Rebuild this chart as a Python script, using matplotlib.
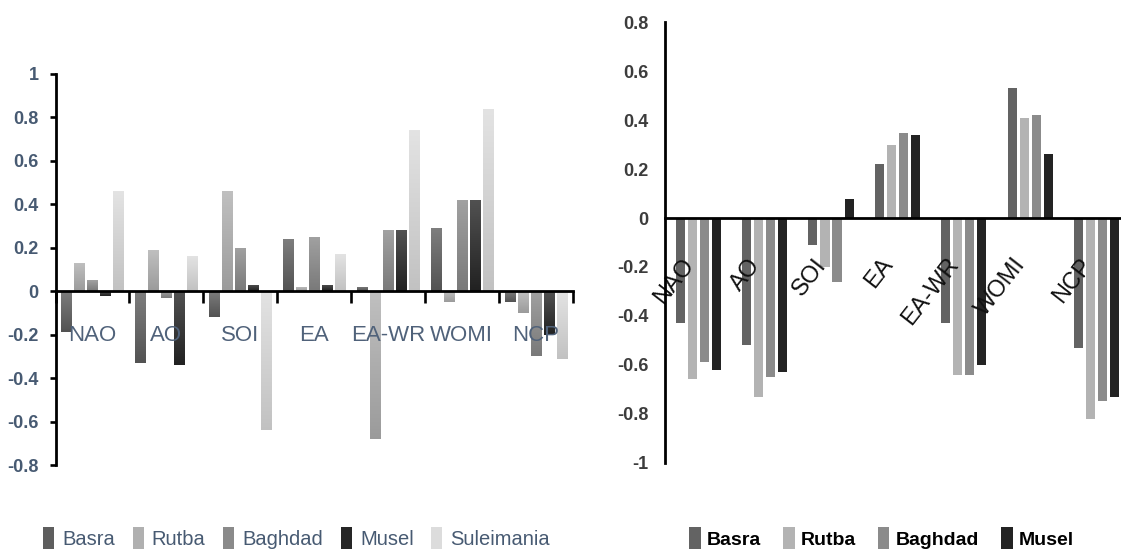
import numpy as np
import matplotlib
matplotlib.use("Agg")
import matplotlib.pyplot as plt
from matplotlib.patches import Patch
from matplotlib.colors import to_rgb

# ---- data ----
indices = ["NAO", "AO", "SOI", "EA", "EA-WR", "WOMI", "NCP"]

stations_l = ["Basra", "Rutba", "Baghdad", "Musel", "Suleimania"]
basra_l      = [-0.19, -0.33, -0.12, 0.24,  0.02,  0.29, -0.05]
rutba_l      = [ 0.13,  0.19,  0.46, 0.02, -0.68, -0.05, -0.10]
baghdad_l    = [ 0.05, -0.03,  0.20, 0.25,  0.28,  0.42, -0.30]
musel_l      = [-0.02, -0.34,  0.03, 0.03,  0.28,  0.42, -0.20]
suleimania_l = [ 0.46,  0.16, -0.64, 0.17,  0.74,  0.84, -0.31]

stations_r = ["Basra", "Rutba", "Baghdad", "Musel"]
basra_r   = [-0.43, -0.52, -0.11, 0.22, -0.43, 0.53, -0.53]
rutba_r   = [-0.66, -0.73, -0.20, 0.30, -0.64, 0.41, -0.82]
baghdad_r = [-0.59, -0.65, -0.26, 0.35, -0.64, 0.42, -0.75]
musel_r   = [-0.62, -0.63,  0.08, 0.34, -0.60, 0.26, -0.73]

yticks_l = [1, 0.8, 0.6, 0.4, 0.2, 0, -0.2, -0.4, -0.6, -0.8]
yticks_r = [0.8, 0.6, 0.4, 0.2, 0, -0.2, -0.4, -0.6, -0.8, -1]

cols_l = ["#5e5e5e", "#b0b0b0", "#8a8a8a", "#262626", "#dcdcdc"]
cols_r = ["#636363", "#b3b3b3", "#8b8b8b", "#232323"]

slate = "#475a72"
plt.rcParams["font.family"] = ["Liberation Sans", "DejaVu Sans"]


def fmt(v):
    return "0" if v == 0 else ("%g" % v)


def grad_bars(ax, x, vals, width, color):
    # plain bars, then a vertical light-to-dark gradient clipped to each bar
    bars = ax.bar(x, vals, width, color=color, zorder=1)
    c = np.array(to_rgb(color))
    top = c + (1 - c) * 0.2
    bot = c * 0.88
    t = np.linspace(0, 1, 64)[:, None]
    img = (top[None, :] * (1 - t) + bot[None, :] * t)[:, None, :]
    for r in bars:
        y0, y1 = sorted([r.get_y(), r.get_y() + r.get_height()])
        im = ax.imshow(img, extent=[r.get_x(), r.get_x() + r.get_width(), y0, y1],
                       aspect="auto", origin="upper", zorder=1.2, interpolation="bilinear")
        im.set_clip_path(r)
    return bars


fig = plt.figure(figsize=(11.21, 5.51), dpi=100)

# ---------------- left chart ----------------
ax1 = fig.add_axes([55.5 / 1121, (551 - 465) / 551, 517.2 / 1121, 391 / 551])
series_l = [basra_l, rutba_l, baghdad_l, musel_l, suleimania_l]
centers = np.arange(len(indices)) + 0.5
pitch, bw = 0.176, 0.142
for k, (vals, col) in enumerate(zip(series_l, cols_l)):
    grad_bars(ax1, centers + (k - 2) * pitch, vals, bw, col)

ax1.set_xlim(0, len(indices))
ax1.set_ylim(-0.8, 1)
for s in ["top", "right"]:
    ax1.spines[s].set_visible(False)
ax1.spines["bottom"].set_position(("data", 0))
ax1.spines["bottom"].set_linewidth(2.0)
ax1.spines["left"].set_linewidth(2.0)
ax1.spines["bottom"].set_zorder(2.5)

ax1.set_xticks(np.arange(len(indices) + 1))
ax1.set_xticklabels([])
ax1.set_xticks(centers, minor=True)
ax1.set_xticklabels(indices, minor=True, fontsize=16, color="#50627a")
ax1.tick_params(axis="x", which="major", direction="out", length=8.6, width=1.9)
ax1.tick_params(axis="x", which="minor", length=0, pad=24)
ax1.set_yticks(yticks_l)
ax1.set_yticklabels([fmt(v) for v in yticks_l], fontsize=13, fontweight="bold", color=slate)
ax1.tick_params(axis="y", direction="out", length=4, width=1.9, pad=8)
ax1.patch.set_alpha(0)

# ---------------- right chart ----------------
ax2 = fig.add_axes([665 / 1121, (551 - 462.5) / 551, 464.8 / 1121, 440 / 551])
series_r = [basra_r, rutba_r, baghdad_r, musel_r]
pitch2, bw2 = 0.181, 0.136
for k, (vals, col) in enumerate(zip(series_r, cols_r)):
    ax2.bar(centers + (k - 1.5) * pitch2, vals, bw2, color=col, zorder=1)

ax2.set_xlim(0, len(indices))
ax2.set_ylim(-1, 0.8)
for s in ["top", "right"]:
    ax2.spines[s].set_visible(False)
ax2.spines["bottom"].set_position(("data", 0))
ax2.spines["bottom"].set_linewidth(2.0)
ax2.spines["left"].set_linewidth(2.0)
ax2.spines["bottom"].set_zorder(2.5)

ax2.set_xticks([])
ax2.set_xticks(centers, minor=True)
ax2.set_xticklabels(indices, minor=True, fontsize=17, color="#111111",
                    rotation=52, ha="right")
ax2.tick_params(axis="x", which="minor", length=0, pad=26)
ax2.set_yticks(yticks_r)
ax2.set_yticklabels([fmt(v) for v in yticks_r], fontsize=13, fontweight="bold", color="#3c3c3c")
ax2.tick_params(axis="y", length=0, pad=12)
ax2.patch.set_alpha(0)

# ---------------- legends ----------------
h_l = [Patch(facecolor=c) for c in cols_l]
fig.legend(h_l, stations_l, loc="center left", bbox_to_anchor=(43 / 1121, 1 - 538 / 551),
           ncol=5, frameon=False, fontsize=14.5, handlelength=0.55, handleheight=1.3,
           handletextpad=0.4, columnspacing=0.88, borderpad=0, borderaxespad=0,
           labelcolor=slate)
h_r = [Patch(facecolor=c) for c in cols_r]
fig.legend(h_r, stations_r, loc="center left", bbox_to_anchor=(689 / 1121, 1 - 538 / 551),
           ncol=4, frameon=False, handlelength=0.6, handleheight=1.3,
           handletextpad=0.32, columnspacing=1.12, borderpad=0, borderaxespad=0,
           prop={"size": 14, "weight": "bold"}, labelcolor="black")

fig.savefig("out.png", dpi=100)
